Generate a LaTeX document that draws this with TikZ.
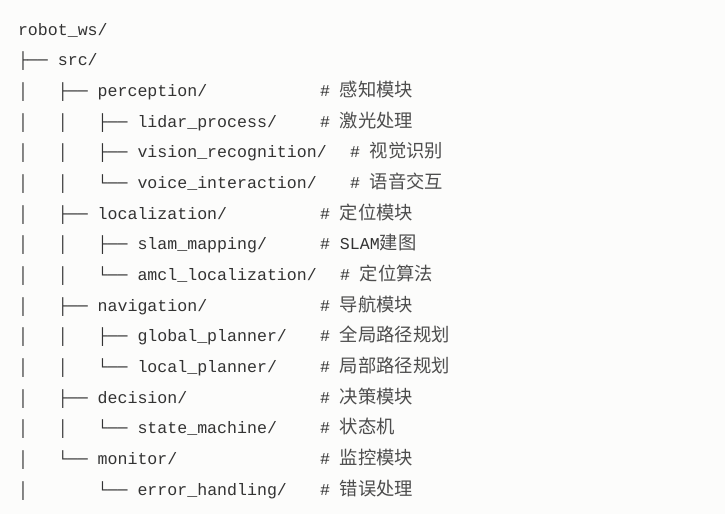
\documentclass[tikz,border=0pt]{standalone}
\usepackage{fontspec}
\setmonofont{Liberation Mono}
\newfontfamily\cjk{Noto Sans CJK SC}
\definecolor{bgc}{HTML}{FCFCFB}
\definecolor{txt}{HTML}{333333}
\definecolor{cjkc}{HTML}{4D4D4D}
\tikzset{
  tline/.style={anchor=base west, inner sep=0pt, outer sep=0pt, text=txt,
    font=\fontsize{16.6}{20}\selectfont\ttfamily},
}
\newcommand{\cj}[1]{{\cjk\fontsize{18.3}{20}\selectfont\color{cjkc}#1}}
\begin{document}
\begin{tikzpicture}[x=1pt,y=1pt]
\fill[bgc] (0,0) rectangle (725,-514);
\useasboundingbox (0,0) rectangle (725,-514);
\def\L#1{-35-(#1-1)*30.67}
\node[tline] (l1)  at (18,{\L{1}})  {robot\_ws/};
\node[tline] (l2)  at (18,{\L{2}})  {├──~src/};
\node[tline] (l3)  at (18,{\L{3}})  {│~~~├──~perception/};
\node[tline] (l4)  at (18,{\L{4}})  {│~~~│~~~├──~lidar\_process/};
\node[tline] (l5)  at (18,{\L{5}})  {│~~~│~~~├──~vision\_recognition/};
\node[tline] (l6)  at (18,{\L{6}})  {│~~~│~~~└──~voice\_interaction/};
\node[tline] (l7)  at (18,{\L{7}})  {│~~~├──~localization/};
\node[tline] (l8)  at (18,{\L{8}})  {│~~~│~~~├──~slam\_mapping/};
\node[tline] (l9)  at (18,{\L{9}})  {│~~~│~~~└──~amcl\_localization/};
\node[tline] (l10) at (18,{\L{10}}) {│~~~├──~navigation/};
\node[tline] (l11) at (18,{\L{11}}) {│~~~│~~~├──~global\_planner/};
\node[tline] (l12) at (18,{\L{12}}) {│~~~│~~~└──~local\_planner/};
\node[tline] (l13) at (18,{\L{13}}) {│~~~├──~decision/};
\node[tline] (l14) at (18,{\L{14}}) {│~~~│~~~└──~state\_machine/};
\node[tline] (l15) at (18,{\L{15}}) {│~~~└──~monitor/};
\node[tline] (l16) at (18,{\L{16}}) {│~~~~~~~└──~error\_handling/};
% comments
\node[tline] (c3)  at (320,{\L{3}})  {\#~\cj{感知模块}};
\node[tline] (c4)  at (320,{\L{4}})  {\#~\cj{激光处理}};
\node[tline] (c5)  at (350,{\L{5}})  {\#~\cj{视觉识别}};
\node[tline] (c6)  at (350,{\L{6}})  {\#~\cj{语音交互}};
\node[tline] (c7)  at (320,{\L{7}})  {\#~\cj{定位模块}};
\node[tline] (c8)  at (320,{\L{8}})  {\#~SLAM\cj{建图}};
\node[tline] (c9)  at (340,{\L{9}})  {\#~\cj{定位算法}};
\node[tline] (c10) at (320,{\L{10}}) {\#~\cj{导航模块}};
\node[tline] (c11) at (320,{\L{11}}) {\#~\cj{全局路径规划}};
\node[tline] (c12) at (320,{\L{12}}) {\#~\cj{局部路径规划}};
\node[tline] (c13) at (320,{\L{13}}) {\#~\cj{决策模块}};
\node[tline] (c14) at (320,{\L{14}}) {\#~\cj{状态机}};
\node[tline] (c15) at (320,{\L{15}}) {\#~\cj{监控模块}};
\node[tline] (c16) at (320,{\L{16}}) {\#~\cj{错误处理}};
\end{tikzpicture}
\end{document}
